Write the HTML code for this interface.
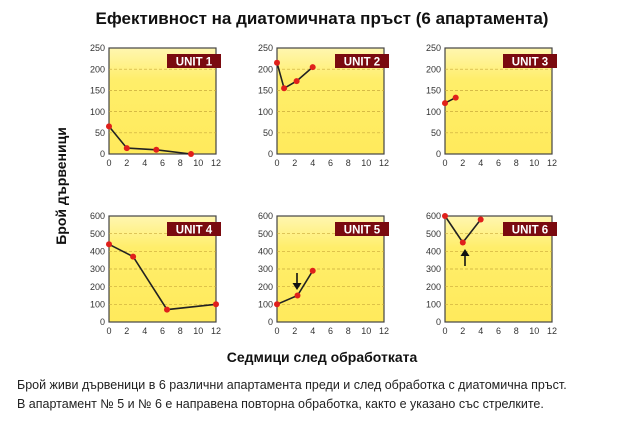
<!DOCTYPE html><html><head><meta charset="utf-8"><style>
body{margin:0;background:#fff;width:644px;height:429px;overflow:hidden;font-family:"Liberation Sans",sans-serif}
svg{position:absolute;left:0;top:0}
.t{font-size:9px;fill:#333;font-family:"Liberation Sans Narrow","Liberation Sans",sans-serif}
.g{stroke:#c9a93a;stroke-width:0.7;stroke-dasharray:3,2}
.lab{font-size:11.5px;font-weight:bold;fill:#fff}
.ln{fill:none;stroke:#222;stroke-width:1.6}
.d{fill:#e0201b}
</style></head><body>
<svg width="644" height="429">
<defs>
<linearGradient id="bg" x1="0" y1="0" x2="0" y2="1"><stop offset="0" stop-color="#fff6b0"/><stop offset="0.3" stop-color="#ffee6a"/><stop offset="1" stop-color="#ffea5c"/></linearGradient>
<g id="p1">
<rect x="0" y="0" width="107" height="106" fill="url(#bg)" stroke="#444" stroke-width="1.2"/>
<line class="g" x1="0" x2="107" y1="84.8" y2="84.8"/><line class="g" x1="0" x2="107" y1="63.6" y2="63.6"/><line class="g" x1="0" x2="107" y1="42.4" y2="42.4"/><line class="g" x1="0" x2="107" y1="21.2" y2="21.2"/>
<g class="t" text-anchor="end"><text x="-4" y="109">0</text><text x="-4" y="88">50</text><text x="-4" y="67">100</text><text x="-4" y="45.5">150</text><text x="-4" y="24.5">200</text><text x="-4" y="3">250</text></g>
<g class="t" text-anchor="middle"><text x="0" y="118">0</text><text x="17.8" y="118">2</text><text x="35.7" y="118">4</text><text x="53.5" y="118">6</text><text x="71.3" y="118">8</text><text x="89.2" y="118">10</text><text x="107" y="118">12</text></g>
</g>
<g id="p2">
<rect x="0" y="0" width="107" height="106" fill="url(#bg)" stroke="#444" stroke-width="1.2"/>
<line class="g" x1="0" x2="107" y1="88.3" y2="88.3"/><line class="g" x1="0" x2="107" y1="70.7" y2="70.7"/><line class="g" x1="0" x2="107" y1="53" y2="53"/><line class="g" x1="0" x2="107" y1="35.3" y2="35.3"/><line class="g" x1="0" x2="107" y1="17.7" y2="17.7"/>
<g class="t" text-anchor="end"><text x="-4" y="109">0</text><text x="-4" y="91.5">100</text><text x="-4" y="74">200</text><text x="-4" y="56">300</text><text x="-4" y="38.5">400</text><text x="-4" y="21">500</text><text x="-4" y="3">600</text></g>
<g class="t" text-anchor="middle"><text x="0" y="118">0</text><text x="17.8" y="118">2</text><text x="35.7" y="118">4</text><text x="53.5" y="118">6</text><text x="71.3" y="118">8</text><text x="89.2" y="118">10</text><text x="107" y="118">12</text></g>
</g>
</defs>
<text x="322" y="24" text-anchor="middle" font-size="17" font-weight="bold" fill="#111">Ефективност на диатомичната пръст (6 апартамента)</text>
<text transform="translate(66,186) rotate(-90)" text-anchor="middle" font-size="14" font-weight="bold" fill="#111">Брой дървеници</text>
<text x="322" y="362" text-anchor="middle" font-size="14" font-weight="bold" fill="#111">Седмици след обработката</text>
<text x="17" y="389" font-size="12.5" fill="#222">Брой живи дървеници в 6 различни апартамента преди и след обработка с диатомична пръст.</text>
<text x="17" y="408" font-size="12.5" fill="#222">В апартамент № 5 и № 6 е направена повторна обработка, както е указано със стрелките.</text>

<use href="#p1" x="109" y="48"/><use href="#p1" x="277" y="48"/><use href="#p1" x="445" y="48"/>
<use href="#p2" x="109" y="216"/><use href="#p2" x="277" y="216"/><use href="#p2" x="445" y="216"/>

<g>
<rect x="167" y="54" width="54" height="14" fill="#7a0a0f"/><text class="lab" x="194" y="65.5" text-anchor="middle">UNIT 1</text>
<rect x="335" y="54" width="54" height="14" fill="#7a0a0f"/><text class="lab" x="362" y="65.5" text-anchor="middle">UNIT 2</text>
<rect x="503" y="54" width="54" height="14" fill="#7a0a0f"/><text class="lab" x="530" y="65.5" text-anchor="middle">UNIT 3</text>
<rect x="167" y="222" width="54" height="14" fill="#7a0a0f"/><text class="lab" x="194" y="233.5" text-anchor="middle">UNIT 4</text>
<rect x="335" y="222" width="54" height="14" fill="#7a0a0f"/><text class="lab" x="362" y="233.5" text-anchor="middle">UNIT 5</text>
<rect x="503" y="222" width="54" height="14" fill="#7a0a0f"/><text class="lab" x="530" y="233.5" text-anchor="middle">UNIT 6</text>
</g>

<polyline class="ln" points="109,126.4 126.8,148.1 156.3,149.8 191,154"/>
<g class="d"><circle cx="109" cy="126.4" r="3"/><circle cx="126.8" cy="148.1" r="3"/><circle cx="156.3" cy="149.8" r="3"/><circle cx="191" cy="154" r="3"/></g>
<polyline class="ln" points="277,62.8 284.1,88.3 296.6,81.1 312.7,67.1"/>
<g class="d"><circle cx="277" cy="62.8" r="3"/><circle cx="284.1" cy="88.3" r="3"/><circle cx="296.6" cy="81.1" r="3"/><circle cx="312.7" cy="67.1" r="3"/></g>
<polyline class="ln" points="445,103.1 455.7,97.6"/>
<g class="d"><circle cx="445" cy="103.1" r="3"/><circle cx="455.7" cy="97.6" r="3"/></g>
<polyline class="ln" points="109,244.3 133.1,256.6 167,309.6 216,304.3"/>
<g class="d"><circle cx="109" cy="244.3" r="3"/><circle cx="133.1" cy="256.6" r="3"/><circle cx="167" cy="309.6" r="3"/><circle cx="216" cy="304.3" r="3"/></g>
<polyline class="ln" points="277,304.3 297.5,295.5 312.7,270.8"/>
<g class="d"><circle cx="277" cy="304.3" r="3"/><circle cx="297.5" cy="295.5" r="3"/><circle cx="312.7" cy="270.8" r="3"/></g>
<polyline class="ln" points="445,216 462.8,242.5 480.7,219.5"/>
<g class="d"><circle cx="445" cy="216" r="3"/><circle cx="462.8" cy="242.5" r="3"/><circle cx="480.7" cy="219.5" r="3"/></g>

<line x1="297" y1="273" x2="297" y2="284" stroke="#111" stroke-width="1.6"/><polygon points="292.5,283 301.5,283 297,290" fill="#111"/>
<line x1="465" y1="266" x2="465" y2="255" stroke="#111" stroke-width="1.6"/><polygon points="460.5,256 469.5,256 465,249" fill="#111"/>
</svg>
</body></html>
